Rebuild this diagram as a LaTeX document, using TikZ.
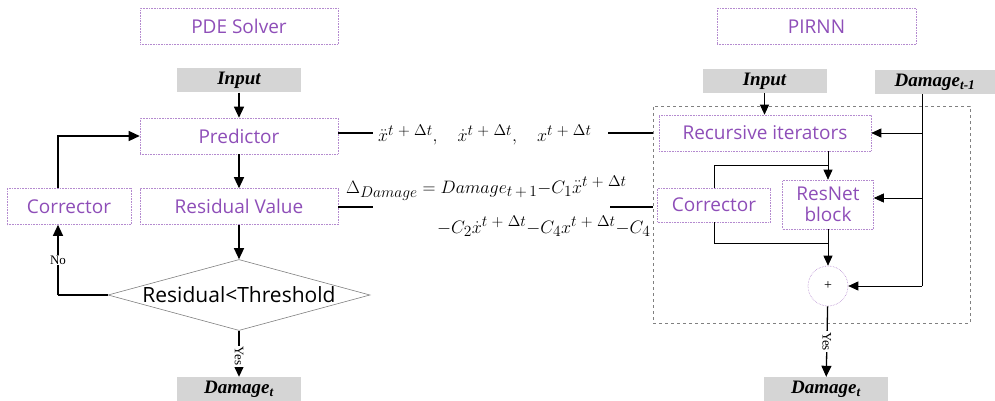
\RequirePackage{fix-cm}
\documentclass[tikz,border=0pt]{standalone}
\usepackage{fontspec}
\setmainfont{Liberation Serif}
\newfontfamily\boxfont{Open Sans}
\usetikzlibrary{shapes.geometric,arrows.meta}
\DeclareMathSizes{18}{18}{15.5}{11}

\definecolor{labelpurple}{HTML}{8E4EB8}
\definecolor{edgepurple}{HTML}{B48ACF}
\definecolor{iogray}{HTML}{D5D5D5}

\newcommand{\sumplus}{\;{+}\;}

\begin{document}
\begin{tikzpicture}[x=1pt,y=-1pt,
  block/.style={draw=edgepurple,densely dotted,line width=0.6pt,text=labelpurple,
    font=\boxfont\fontsize{19}{21}\selectfont,minimum height=36pt,inner sep=2pt},
  iobox/.style={fill=iogray,font=\bfseries\itshape\fontsize{19}{21}\selectfont,
    minimum width=124pt,minimum height=24pt,inner sep=1pt},
  flow/.style={line width=1.3pt,-{Triangle[width=10pt,length=11pt]}},
  thinflow/.style={line width=0.7pt,-{Triangle[width=9pt,length=10pt]}},
  thinline/.style={line width=0.7pt},
  link/.style={line width=1.3pt},
  tag/.style={fill=white,inner sep=1pt,font=\fontsize{13}{14}\selectfont},
  formula/.style={inner sep=0pt,font=\fontsize{18}{20}\selectfont}
  ]
  \useasboundingbox (0,0) rectangle (995,401);

  % PDE solver side
  \node[block,minimum width=198pt] (pde) at (239,26.5) {PDE Solver};
  \node[iobox] (inL) at (239,80.5) {Input};
  \node[block,minimum width=198pt] (pred) at (239,136) {Predictor};
  \node[block,minimum width=198pt] (res) at (239,206.5) {Residual Value};
  \node[block,minimum width=124pt] (corL) at (69,206.5) {Corrector};
  \node[diamond,draw=gray,line width=0.6pt,aspect=3.7,inner sep=0pt,
    minimum width=262pt,minimum height=71pt,
    font=\boxfont\fontsize{21}{23}\selectfont] (check) at (239,295) {Residual<Threshold};
  \node[iobox] (outL) at (239,389) {Damage\textsubscript{t}};
  \coordinate (bend) at (58,295);

  \draw[flow] (inL) -- (pred);
  \draw[flow] (pred) -- (res);
  \draw[flow] (res) -- (check);
  \draw[flow] (check) -- node[tag,rotate=-90,pos=0.55] {Yes} (outL);
  \draw[link] (check.west) -- (bend);
  \draw[flow] (bend) -- node[tag] {No} (bend |- corL.south);
  \draw[flow] (bend |- corL.north) |- (pred.west);

  % quantities passed across
  \node[formula,anchor=base west] (state) at (378,142)
    {$\ddot{x}^{t\sumplus\Delta t},\hspace{17pt}\dot{x}^{t\sumplus\Delta t},\hspace{17pt}x^{t\sumplus\Delta t}$};
  \node[formula,anchor=base west] (loss1) at (346,193)
    {$\Delta_{Damage}=Damage_{t\,+\,1}{-}C_1\ddot{x}^{t\sumplus\Delta t}$};
  \node[formula,anchor=base west] (loss2) at (437,233)
    {$-C_2\dot{x}^{t\sumplus\Delta t}{-}C_4x^{t\sumplus\Delta t}{-}C_4$};
  \coordinate (stateA) at (373,133);
  \coordinate (stateB) at (608,133);
  \coordinate (lossA) at (373,207);
  \coordinate (lossB) at (610,207);

  % PIRNN side
  \node[draw=gray,dashed,line width=0.6pt,minimum width=317pt,minimum height=217pt,
    inner sep=0pt] (frame) at (811.5,214.5) {};
  \node[block,minimum width=199pt] (pirnn) at (816.5,26.5) {PIRNN};
  \node[iobox] (inR) at (764.5,81) {Input};
  \node[iobox,minimum width=120pt] (dprev) at (935,82) {Damage\textsubscript{t-1}};
  \node[block,minimum width=212pt] (rec) at (765,133) {Recursive iterators};
  \node[block,minimum width=113pt,minimum height=34pt] (corR) at (714,205) {Corrector};
  \node[block,minimum width=91pt,minimum height=49pt,align=center,
    font=\boxfont\fontsize{19}{21}\selectfont] (resnet) at (828,204.5) {ResNet\\block};
  \node[circle,draw=edgepurple,densely dotted,line width=0.6pt,minimum size=40pt,
    inner sep=0pt,font=\fontsize{14}{14}\selectfont] (sum) at (828,286) {+};
  \node[iobox] (outR) at (826,389) {Damage\textsubscript{t}};
  \coordinate (split) at (828,165);
  \coordinate (merge) at (828,243);
  \coordinate (rail) at (922,286);

  \draw[link] (pred.east |- stateA) -- (stateA);
  \draw[link] (stateB) -- (frame.west |- stateB);
  \draw[link] (res.east |- lossA) -- (lossA);
  \draw[link] (lossB) -- (frame.west |- lossB);

  \draw[thinflow] (inR) -- (inR |- rec.north);
  \draw[thinflow] (rec.south -| split) -- (resnet.north);
  \draw[thinline] (corR.north) |- (split);
  \draw[thinline] (corR.south) |- (merge);
  \draw[thinflow] (resnet.south) -- (sum.north);
  \draw[thinline] (rail |- dprev.south) -- (rail);
  \draw[thinflow] (rail |- rec.east) -- (rec.east);
  \draw[thinflow] ([yshift=6.5pt]resnet.east -| rail) -- ([yshift=6.5pt]resnet.east);
  \draw[thinflow] (rail) -- (sum.east);
  \draw[flow] (sum) -- node[tag,rotate=-90] {Yes} (outR);
\end{tikzpicture}
\end{document}
